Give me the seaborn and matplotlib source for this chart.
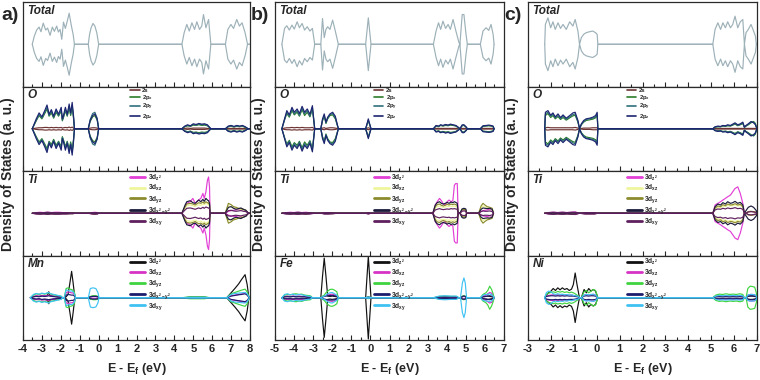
import numpy as np
import pandas as pd
import seaborn as sns
import matplotlib.pyplot as plt
from matplotlib.lines import Line2D
from matplotlib.ticker import MultipleLocator

# ---------------- data: energies (eV) and spin-up DOS (a.u.), spin-down is mirrored ----------------
# panel a) Mn
a_tot_e = [-3.51, -3.40, -3.28, -3.15, -3.05, -2.93, -2.80, -2.70, -2.57, -2.45, -2.34, -2.22, -2.13, -2.04, -1.95,
           -1.86, -1.76, -1.66, -1.56, -1.45, -1.35, -1.28,
           -0.55, -0.48, -0.40, -0.30, -0.20, -0.10, 0.00,
           4.40, 4.52, 4.66, 4.79, 4.93, 5.07, 5.19, 5.33, 5.45, 5.54, 5.67, 5.81, 5.93,
           6.70, 6.83, 6.99, 7.13, 7.30, 7.44, 7.58, 7.74, 7.87, 7.97]
a_tot = [0, 2.5, 4.3, 5.2, 3.8, 6.4, 4.3, 4.9, 2.7, 5.2, 3.9, 5.5, 3.7, 4.5, 1.5,
         6.7, 4.8, 7.0, 9.4, 5.8, 3.0, 0,
         0, 3.0, 5.0, 6.3, 5.5, 3.5, 0,
         0, 3.5, 6.0, 4.0, 6.5, 4.5, 6.8, 4.5, 5.5, 9.0, 5.0, 7.5, 0,
         0, 4.5, 6.0, 4.8, 7.5, 5.5, 6.5, 3.5, 0, 0]

a_o_e = [-3.51, -3.30, -3.15, -3.00, -2.85, -2.73, -2.62, -2.50, -2.38, -2.25, -2.12, -1.98, -1.92, -1.86, -1.76, -1.66, -1.56, -1.48, -1.40, -1.33, -1.28,
         -0.55, -0.45, -0.32, -0.20, -0.08, 0.00,
         4.40, 4.55, 4.70, 4.85, 5.00, 5.15, 5.30, 5.45, 5.60, 5.75, 5.93,
         6.70, 6.85, 7.00, 7.15, 7.30, 7.45, 7.60, 7.75, 7.90, 7.97]
a_o_2s = [0, 0.2, 0.3, 0.3, 0.4, 0.4, 0.3, 0.4, 0.3, 0.4, 0.3, 0.4, 0.2, 0.3, 0.4, 0.3, 0.5, 0.3, 0.5, 0.2, 0,
          0, 0.2, 0.3, 0.3, 0.2, 0,
          0, 0.1, 0.2, 0.1, 0.2, 0.2, 0.2, 0.2, 0.2, 0.1, 0,
          0, 0.1, 0.1, 0.1, 0.1, 0.1, 0.1, 0.1, 0, 0]
a_o_px = [0, 2.4, 4.0, 3.0, 4.6, 6.0, 3.8, 4.8, 3.2, 5.0, 3.8, 5.4, 2.4, 3.4, 5.4, 3.8, 6.2, 4.0, 6.6, 3.2, 0,
          0, 2.2, 3.6, 4.0, 2.6, 0,
          0, 0.6, 0.9, 0.7, 1.1, 1.0, 1.2, 1.0, 1.1, 0.9, 0,
          0, 0.6, 0.8, 0.5, 0.8, 0.6, 0.8, 0.4, 0, 0]
a_o_py = [0, 2.6, 4.3, 3.3, 5.0, 6.5, 4.0, 5.3, 3.5, 5.5, 4.0, 5.8, 2.6, 3.6, 5.8, 4.0, 6.8, 4.4, 7.2, 3.5, 0,
          0, 2.8, 4.6, 5.0, 3.2, 0,
          0, 0.7, 1.0, 0.8, 1.3, 1.1, 1.4, 1.2, 1.3, 1.0, 0,
          0, 0.7, 0.9, 0.6, 0.9, 0.7, 0.9, 0.5, 0, 0]
a_o_pz = [0, 3.0, 4.8, 3.6, 5.5, 7.2, 4.4, 5.8, 3.8, 6.0, 4.4, 6.5, 3.0, 4.0, 6.5, 4.4, 7.5, 4.8, 8.0, 4.0, 0,
          0, 2.5, 4.0, 4.5, 3.0, 0,
          0, 0.8, 1.2, 0.9, 1.5, 1.3, 1.6, 1.4, 1.5, 1.2, 0,
          0, 0.8, 1.0, 0.7, 1.0, 0.8, 1.0, 0.6, 0, 0]

a_ti_e = [-3.51, -3.30, -3.10, -2.90, -2.70, -2.50, -2.30, -2.10, -1.90, -1.70, -1.50, -1.35, -1.28,
          -0.55, -0.35, -0.20, -0.06, 0.00,
          4.40, 4.57, 4.66, 4.84, 4.98, 5.10, 5.28, 5.40, 5.51, 5.58, 5.67, 5.75, 5.81, 5.86, 5.89,
          6.69, 6.86, 7.00, 7.13, 7.26, 7.39, 7.52, 7.65, 7.78, 7.92, 7.97]
a_ti_z2 = [0, 0.2, 0.3, 0.2, 0.3, 0.2, 0.3, 0.3, 0.2, 0.2, 0.1, 0.1, 0,
           0, 0.2, 0.3, 0.2, 0,
           0, 2.0, 3.0, 3.5, 4.5, 3.0, 4.0, 4.5, 6.0, 4.5, 6.5, 10.0, 11.0, 8.0, 0,
           0, 0.6, 0.8, 0.9, 1.0, 1.2, 1.0, 1.1, 0.8, 0, 0]
a_ti_xz = [0, 0.1, 0.1, 0.1, 0.1, 0.1, 0.1, 0.1, 0.1, 0.1, 0.1, 0.1, 0,
           0, 0.1, 0.1, 0.1, 0,
           0, 1.5, 2.2, 2.5, 2.3, 2.0, 2.6, 2.4, 2.8, 2.6, 3.0, 2.8, 2.5, 2.2, 0,
           0, 2.2, 2.0, 1.6, 1.5, 1.3, 1.2, 1.0, 0.8, 0, 0]
a_ti_yz = [0, 0.1, 0.2, 0.1, 0.2, 0.1, 0.2, 0.1, 0.1, 0.1, 0.1, 0.1, 0,
           0, 0.1, 0.2, 0.1, 0,
           0, 2.0, 2.8, 3.0, 2.8, 2.5, 3.2, 3.0, 3.4, 3.0, 3.5, 3.2, 3.0, 2.6, 0,
           0, 3.0, 2.6, 2.0, 1.8, 1.5, 1.4, 1.2, 0.9, 0, 0]
a_ti_x2y2 = [0, 0.1, 0.2, 0.1, 0.2, 0.1, 0.2, 0.2, 0.1, 0.1, 0.1, 0.1, 0,
             0, 0.1, 0.2, 0.1, 0,
             0, 2.5, 3.5, 3.8, 3.2, 3.0, 4.0, 3.5, 4.2, 3.6, 4.5, 4.0, 3.8, 3.0, 0,
             0, 1.8, 2.0, 1.5, 1.2, 1.4, 1.6, 1.2, 0.9, 0, 0]
a_ti_xy = [0, 0.2, 0.2, 0.2, 0.3, 0.2, 0.2, 0.2, 0.2, 0.2, 0.1, 0.1, 0,
           0, 0.2, 0.2, 0.2, 0,
           0, 1.0, 1.5, 1.6, 1.4, 1.2, 1.6, 1.4, 1.8, 1.5, 1.9, 1.7, 1.6, 1.3, 0,
           0, 0.8, 0.9, 0.7, 0.6, 0.7, 0.8, 0.6, 0.5, 0, 0]

a_mn_e = [-3.61, -3.45, -3.30, -3.15, -3.00, -2.85, -2.70, -2.64, -2.58, -2.45, -2.30, -2.15, -2.00, -1.90,
          -1.82, -1.72, -1.62, -1.52, -1.43, -1.35, -1.28, -1.22,
          -0.55, -0.44, -0.30, -0.15, -0.04, 0.02,
          4.40, 4.80, 5.20, 5.60, 5.90,
          6.77, 7.00, 7.20, 7.40, 7.55, 7.74, 7.85, 7.93, 7.97]
a_mn_z2 = [0, 0.3, 0.5, 0.4, 0.6, 0.5, 0.8, 1.8, 0.7, 0.5, 0.4, 0.3, 0.2, 0,
           0, 0.3, 1.0, 4.5, 8.0, 4.5, 1.0, 0,
           0, 0.3, 0.5, 0.5, 0.3, 0,
           0, 0, 0, 0, 0,
           0, 1.5, 2.8, 4.2, 5.5, 7.0, 4.0, 0.5, 0]
a_mn_xz = [0, 0.4, 0.6, 0.5, 0.7, 0.6, 0.7, 0.8, 0.6, 0.5, 0.4, 0.3, 0.3, 0,
           0, 1.5, 1.8, 1.6, 1.5, 1.4, 1.0, 0,
           0, 0.2, 0.3, 0.3, 0.2, 0,
           0, 0.1, 0.1, 0.1, 0,
           0, 0.6, 0.8, 1.0, 1.2, 1.4, 1.0, 0.3, 0]
a_mn_yz = [0, 0.8, 1.2, 1.0, 1.3, 1.1, 1.4, 1.5, 1.2, 1.0, 0.8, 0.6, 0.5, 0,
           0, 2.8, 3.0, 2.6, 2.5, 2.2, 1.6, 0,
           0, 0.4, 0.6, 0.6, 0.4, 0,
           0, 0.3, 0.3, 0.3, 0,
           0, 1.2, 1.6, 2.0, 2.3, 2.6, 1.8, 0.5, 0]
a_mn_x2y2 = [0, 0.3, 0.4, 0.3, 0.5, 0.4, 0.5, 0.6, 0.5, 0.4, 0.3, 0.2, 0.2, 0,
             0, 0.8, 1.0, 0.9, 0.8, 0.8, 0.5, 0,
             0, 0.3, 0.4, 0.4, 0.3, 0,
             0, 0.1, 0.1, 0.1, 0,
             0, 0.5, 0.7, 0.9, 1.0, 1.2, 0.8, 0.2, 0]
a_mn_xy = [0, 1.0, 1.3, 1.1, 1.4, 1.2, 1.5, 1.6, 1.3, 1.1, 0.9, 0.7, 0.5, 0,
           0, 2.4, 2.2, 2.0, 2.1, 1.8, 1.2, 0,
           0, 2.8, 3.0, 2.8, 1.6, 0,
           0, 0.1, 0.1, 0.1, 0,
           0, 1.0, 1.3, 1.4, 1.5, 1.6, 1.2, 0.4, 0]

# panel b) Fe
b_e = [-4.64, -4.50, -4.38, -4.25, -4.11, -3.99, -3.84, -3.72, -3.58, -3.45, -3.31, -3.17, -3.04, -2.92,
       -2.60, -2.51, -2.42, -2.33, -2.24, -2.12, -1.98, -1.84, -1.68,
       -0.25, -0.11, 0.03,
       3.30, 3.44, 3.57, 3.68, 3.80, 3.94, 4.07, 4.19, 4.33, 4.48, 4.64,
       4.69, 4.81, 4.90, 5.01, 5.08,
       5.76, 5.90, 6.06, 6.20, 6.32, 6.43, 6.48]
b_tot = [0, 4.8, 5.6, 4.3, 5.8, 4.6, 6.8, 5.0, 6.3, 4.3, 5.3, 4.0, 4.8, 0,
         0, 7.8, 2.0, 4.5, 5.3, 4.5, 7.3, 4.0, 0,
         0, 8.0, 0,
         0, 4.0, 6.5, 4.5, 7.0, 4.8, 6.0, 4.5, 7.5, 4.0, 0.5,
         0, 9.0, 9.0, 3.0, 0,
         0, 4.0, 5.0, 4.2, 6.0, 3.0, 0]
b_o_2s = [0, 0.2, 0.3, 0.3, 0.4, 0.3, 0.4, 0.3, 0.4, 0.3, 0.3, 0.3, 0.4, 0,
          0, 0.2, 0.3, 0.1, 0.2, 0.3, 0.3, 0.2, 0,
          0, 0.3, 0,
          0, 0.1, 0.1, 0.1, 0.1, 0.1, 0.1, 0.1, 0.1, 0.1, 0,
          0, 0.1, 0.1, 0.1, 0,
          0, 0.1, 0.1, 0.1, 0.1, 0.1, 0]
b_o_px = [0, 2.8, 4.6, 3.5, 5.5, 4.2, 5.0, 3.8, 5.8, 4.0, 5.0, 3.6, 6.0, 0,
          0, 2.4, 3.8, 1.6, 3.0, 4.0, 4.2, 3.0, 0,
          0, 2.4, 0,
          0, 0.8, 0.6, 1.0, 0.8, 1.0, 0.9, 1.1, 1.0, 0.8, 0.2,
          0, 0.9, 1.0, 0.5, 0,
          0, 0.7, 0.8, 0.9, 0.8, 0.6, 0]
b_o_py = [0, 2.6, 5.0, 3.8, 5.9, 4.5, 5.5, 4.0, 6.2, 4.5, 5.5, 3.8, 6.4, 0,
          0, 2.6, 4.0, 1.8, 3.2, 4.2, 4.6, 3.4, 0,
          0, 2.6, 0,
          0, 0.9, 0.7, 1.1, 0.9, 1.2, 1.0, 1.3, 1.1, 0.9, 0.2,
          0, 1.0, 1.1, 0.5, 0,
          0, 0.8, 0.9, 1.0, 0.9, 0.7, 0]
b_o_pz = [0, 3.0, 5.5, 4.2, 6.5, 5.0, 6.0, 4.6, 6.8, 5.0, 6.0, 4.4, 7.0, 0,
          0, 3.0, 4.5, 2.0, 3.5, 4.5, 5.0, 3.8, 0,
          0, 3.0, 0,
          0, 1.0, 0.8, 1.2, 1.0, 1.3, 1.1, 1.4, 1.2, 1.0, 0.3,
          0, 1.2, 1.2, 0.6, 0,
          0, 0.9, 1.0, 1.1, 1.0, 0.8, 0]

b_ti_e = [-4.64, -4.40, -4.20, -4.00, -3.80, -3.60, -3.40, -3.20, -2.92, -2.60, -2.40, -2.20, -1.98, -1.68, -0.25, -0.11, 0.03,
          3.27, 3.40, 3.50, 3.62, 3.72, 3.82, 3.92, 4.02, 4.12, 4.22, 4.32, 4.40, 4.47, 4.55, 4.60,
          4.69, 4.80, 4.90, 5.00, 5.04,
          5.67, 5.80, 5.90, 6.00, 6.12, 6.25, 6.38, 6.45]
b_ti_z2 = [0, 0.2, 0.3, 0.2, 0.3, 0.2, 0.3, 0.2, 0, 0, 0.2, 0.2, 0.1, 0, 0, 0.2, 0,
           0, 2.5, 3.5, 4.5, 3.8, 2.8, 2.5, 3.5, 4.0, 3.5, 3.8, 8.5, 9.0, 9.0, 0,
           0, 0.8, 1.0, 0.8, 0,
           0, 0.6, 0.8, 0.9, 1.0, 1.2, 1.0, 0]
b_ti_xz = [0, 0.1, 0.1, 0.1, 0.1, 0.1, 0.1, 0.1, 0, 0, 0.1, 0.1, 0.1, 0, 0, 0.1, 0,
           0, 1.6, 2.0, 2.2, 1.9, 1.8, 1.9, 2.1, 2.0, 2.2, 2.0, 2.2, 2.0, 1.8, 0,
           0, 0.9, 1.1, 0.9, 0,
           0, 1.6, 2.2, 1.9, 1.6, 1.4, 1.2, 0]
b_ti_yz = [0, 0.1, 0.2, 0.1, 0.2, 0.1, 0.2, 0.1, 0, 0, 0.1, 0.1, 0.1, 0, 0, 0.1, 0,
           0, 2.0, 2.6, 2.8, 2.4, 2.2, 2.4, 2.7, 2.5, 2.8, 2.6, 2.8, 2.6, 2.4, 0,
           0, 1.0, 1.2, 1.0, 0,
           0, 2.2, 3.0, 2.5, 2.0, 1.8, 1.5, 0]
b_ti_x2y2 = [0, 0.1, 0.2, 0.1, 0.2, 0.1, 0.2, 0.1, 0, 0, 0.1, 0.1, 0.1, 0, 0, 0.1, 0,
             0, 2.5, 3.2, 3.5, 3.0, 2.8, 3.0, 3.3, 3.0, 3.4, 3.2, 3.5, 3.3, 3.0, 0,
             0, 1.3, 1.5, 1.3, 0,
             0, 1.2, 1.6, 1.5, 1.4, 1.5, 1.2, 0]
b_ti_xy = [0, 0.2, 0.2, 0.2, 0.3, 0.2, 0.2, 0.2, 0, 0, 0.2, 0.2, 0.1, 0, 0, 0.2, 0,
           0, 1.0, 1.2, 1.4, 1.2, 1.1, 1.2, 1.3, 1.2, 1.4, 1.3, 1.4, 1.3, 1.2, 0,
           0, 0.6, 0.7, 0.6, 0,
           0, 0.5, 0.7, 0.6, 0.6, 0.7, 0.5, 0]

b_fe_e = [-4.64, -4.50, -4.35, -4.20, -4.05, -3.90, -3.75, -3.60, -3.45, -3.30, -3.15, -3.04,
          -2.60, -2.51, -2.42, -2.33, -2.24, -2.12, -2.00, -1.88, -1.76, -1.68,
          -0.25, -0.11, 0.03,
          3.30, 3.60, 3.90, 4.20, 4.50, 4.64,
          4.72, 4.82, 4.90, 4.97, 5.04,
          5.76, 5.90, 6.05, 6.15, 6.25, 6.35, 6.43, 6.48]
b_fe_z2 = [0, 0.3, 0.4, 0.3, 0.4, 0.3, 0.4, 0.3, 0.3, 0.2, 0.2, 0,
           0, 6.5, 12.0, 6.5, 0.5, 0.4, 0.5, 0.4, 0.3, 0,
           0, 12.5, 0,
           0, 0.1, 0.1, 0.1, 0.1, 0,
           0, 0.3, 0.5, 0.3, 0,
           0, 0.3, 0.4, 0.5, 0.4, 0.3, 0.2, 0]
b_fe_xz = [0, 0.4, 0.5, 0.4, 0.5, 0.4, 0.5, 0.4, 0.4, 0.3, 0.3, 0,
           0, 0.3, 0.5, 0.6, 0.8, 1.0, 1.1, 0.9, 0.6, 0,
           0, 0.2, 0,
           0, 0.2, 0.3, 0.2, 0.2, 0,
           0, 0.3, 0.4, 0.3, 0,
           0, 0.5, 0.8, 1.2, 1.6, 1.4, 0.8, 0]
b_fe_yz = [0, 0.8, 1.0, 0.9, 1.1, 1.2, 1.0, 1.1, 0.8, 0.7, 0.6, 0,
           0, 0.5, 0.8, 1.5, 2.0, 2.5, 2.6, 2.3, 1.8, 0,
           0, 0.3, 0,
           0, 0.4, 0.5, 0.4, 0.4, 0,
           0, 0.5, 0.6, 0.5, 0,
           0, 1.0, 1.5, 2.2, 3.5, 2.5, 1.2, 0]
b_fe_x2y2 = [0, 0.3, 0.3, 0.3, 0.4, 0.3, 0.3, 0.3, 0.3, 0.2, 0.2, 0,
             0, 0.2, 0.4, 0.5, 0.6, 0.7, 0.7, 0.6, 0.4, 0,
             0, 0.2, 0,
             0, 0.2, 0.2, 0.2, 0.2, 0,
             0, 0.4, 0.5, 0.4, 0,
             0, 0.3, 0.4, 0.5, 0.6, 0.5, 0.3, 0]
b_fe_xy = [0, 1.0, 1.2, 0.9, 1.1, 0.8, 1.0, 0.9, 0.7, 0.5, 0.4, 0,
           0, 0.3, 0.5, 0.8, 1.2, 1.5, 1.6, 1.2, 0.8, 0,
           0, 0.2, 0,
           0, 0.5, 0.6, 0.5, 0.5, 0,
           0, 4.5, 6.0, 4.5, 0,
           0, 0.8, 1.0, 1.0, 1.2, 0.9, 0.5, 0]

# panel c) Ni
c_e = [-2.27, -2.24, -2.13, -2.01, -1.91, -1.81, -1.69, -1.58, -1.47, -1.33, -1.18, -1.04, -0.94, -0.82, -0.75,
       -0.67, -0.57, -0.46, -0.31, -0.17, -0.05, 0.02, 0.05,
       5.07, 5.17, 5.29, 5.41, 5.51, 5.62, 5.72, 5.84, 5.94, 6.04, 6.16, 6.27, 6.38, 6.45,
       6.52, 6.62, 6.74, 6.85, 6.93, 6.97, 7.00]
c_tot = [0, 6.0, 8.0, 5.0, 6.8, 4.5, 6.5, 4.8, 6.0, 4.5, 6.8, 5.5, 7.5, 4.0, 0,
         2.0, 3.0, 3.5, 3.8, 4.0, 3.5, 3.0, 0,
         0, 4.5, 6.5, 4.5, 6.5, 5.0, 6.8, 5.0, 6.0, 8.5, 5.0, 6.8, 7.5, 0,
         3.5, 4.5, 6.0, 4.0, 2.5, 0, 0]
c_o_2s = [0, 0.3, 0.4, 0.3, 0.3, 0.3, 0.3, 0.3, 0.3, 0.3, 0.3, 0.3, 0.4, 0.2, 0,
          0.1, 0.2, 0.2, 0.2, 0.3, 0.3, 0.3, 0,
          0, 0.1, 0.1, 0.1, 0.1, 0.1, 0.1, 0.1, 0.1, 0.1, 0.1, 0.1, 0.1, 0,
          0.1, 0.1, 0.1, 0.1, 0.1, 0, 0]
c_o_px = [0, 4.0, 4.6, 3.4, 4.0, 3.0, 3.7, 2.8, 3.4, 2.6, 3.3, 3.9, 4.1, 2.0, 0,
          1.2, 2.0, 2.5, 2.7, 2.9, 3.3, 4.1, 0,
          0, 0.5, 0.6, 0.6, 0.8, 0.7, 0.9, 0.8, 1.1, 1.4, 0.9, 1.2, 1.6, 0.4,
          0.8, 1.2, 1.8, 2.2, 1.6, 0.6, 0]
c_o_py = [0, 4.5, 5.0, 3.8, 4.4, 3.3, 4.0, 3.1, 3.8, 2.9, 3.6, 4.3, 4.5, 2.2, 0,
          1.3, 2.2, 2.8, 3.0, 3.2, 3.6, 4.5, 0,
          0, 0.5, 0.7, 0.6, 0.9, 0.8, 1.0, 0.9, 1.2, 1.6, 1.0, 1.3, 1.8, 0.4,
          0.9, 1.3, 2.0, 2.0, 1.4, 0.5, 0]
c_o_pz = [0, 5.0, 5.5, 4.1, 4.8, 3.6, 4.5, 3.4, 4.2, 3.2, 4.0, 4.8, 5.0, 2.5, 0,
          1.5, 2.5, 3.0, 3.2, 3.5, 4.0, 5.0, 0,
          0, 0.6, 0.8, 0.7, 1.0, 0.9, 1.2, 1.0, 1.4, 1.8, 1.2, 1.5, 2.0, 0.5,
          1.0, 1.5, 2.2, 1.8, 1.2, 0.5, 0]

c_ti_e = [-2.27, -2.10, -1.90, -1.70, -1.50, -1.30, -1.10, -0.94, -0.75, -0.50, -0.30, -0.10, 0.05,
          5.07, 5.17, 5.29, 5.41, 5.51, 5.62, 5.72, 5.84, 5.94, 6.04, 6.16, 6.27, 6.38, 6.45,
          6.52, 6.62, 6.74, 6.85, 6.97, 7.00]
c_ti_z2 = [0, 0.2, 0.3, 0.2, 0.3, 0.2, 0.3, 0.4, 0, 0.2, 0.2, 0.2, 0,
           0, 2.5, 3.0, 3.5, 4.0, 4.5, 5.0, 5.5, 6.5, 7.5, 8.0, 6.0, 3.0, 0,
           0, 0.4, 0.5, 0.4, 0.2, 0]
c_ti_xz = [0, 0.1, 0.1, 0.1, 0.1, 0.1, 0.1, 0.1, 0, 0.1, 0.1, 0.1, 0,
           0, 1.3, 1.8, 1.7, 2.2, 2.0, 2.4, 2.2, 2.3, 2.5, 2.2, 2.4, 1.8, 0,
           0, 0.4, 0.5, 0.4, 0.2, 0]
c_ti_yz = [0, 0.1, 0.2, 0.1, 0.2, 0.1, 0.2, 0.2, 0, 0.1, 0.1, 0.1, 0,
           0, 1.6, 2.2, 2.0, 2.6, 2.3, 2.8, 2.5, 2.6, 2.9, 2.5, 2.7, 2.0, 0,
           0, 0.5, 0.6, 0.5, 0.3, 0]
c_ti_x2y2 = [0, 0.1, 0.2, 0.1, 0.2, 0.1, 0.2, 0.2, 0, 0.1, 0.1, 0.1, 0,
             0, 2.0, 2.8, 2.5, 3.2, 2.8, 3.5, 3.0, 3.2, 3.6, 3.0, 3.3, 2.5, 0,
             0.8, 1.8, 2.2, 1.8, 0.8, 0]
c_ti_xy = [0, 0.2, 0.3, 0.2, 0.3, 0.2, 0.3, 0.3, 0, 0.2, 0.2, 0.2, 0,
           0, 1.0, 1.3, 1.2, 1.5, 1.3, 1.6, 1.4, 1.5, 1.7, 1.4, 1.5, 1.2, 0,
           0, 0.4, 0.5, 0.4, 0.2, 0]

c_ni_e = [-2.27, -2.20, -2.10, -2.00, -1.90, -1.80, -1.70, -1.60, -1.50, -1.40, -1.30, -1.20, -1.10, -1.02, -0.94, -0.86, -0.78, -0.75,
          -0.67, -0.55, -0.45, -0.35, -0.25, -0.15, -0.05, 0.05,
          5.07, 5.20, 5.35, 5.50, 5.65, 5.80, 5.95, 6.10, 6.25, 6.38, 6.45,
          6.52, 6.60, 6.70, 6.80, 6.90, 6.97, 7.00]
c_ni_z2 = [0, 0.8, 1.5, 2.0, 2.8, 2.2, 3.0, 2.4, 3.0, 2.5, 2.8, 2.2, 2.6, 4.0, 7.5, 4.0, 1.0, 0,
           0, 2.5, 1.5, 2.8, 2.0, 2.5, 2.0, 0,
           0, 0.3, 0.4, 0.3, 0.4, 0.3, 0.4, 0.3, 0.4, 0.3, 0,
           0, 0.4, 0.5, 0.5, 0.4, 0.3, 0]
c_ni_xz = [0, 0.5, 0.7, 0.8, 0.9, 0.8, 0.9, 0.8, 0.9, 0.8, 0.9, 0.8, 0.8, 0.7, 0.6, 0.5, 0.3, 0,
           0, 0.8, 0.9, 0.8, 0.9, 1.0, 0.8, 0,
           0, 0.4, 0.5, 0.5, 0.5, 0.5, 0.5, 0.5, 0.5, 0.4, 0,
           0, 0.8, 1.0, 1.0, 0.9, 0.5, 0]
c_ni_yz = [0, 1.0, 1.4, 1.6, 1.8, 1.6, 1.9, 1.7, 1.9, 1.6, 1.8, 1.5, 1.7, 1.5, 1.2, 0.8, 0.4, 0,
           0, 1.8, 2.2, 1.5, 2.0, 2.5, 2.2, 0,
           0, 0.8, 1.1, 1.0, 1.2, 1.0, 1.1, 1.0, 1.2, 1.0, 0,
           0, 2.8, 3.5, 3.4, 3.2, 1.5, 0]
c_ni_x2y2 = [0, 0.4, 0.5, 0.6, 0.6, 0.5, 0.6, 0.5, 0.6, 0.5, 0.6, 0.5, 0.5, 0.5, 0.4, 0.3, 0.2, 0,
             0, 0.5, 0.6, 0.5, 0.6, 0.6, 0.5, 0,
             0, 0.3, 0.3, 0.3, 0.3, 0.3, 0.3, 0.3, 0.3, 0.3, 0,
             0, 0.5, 0.6, 0.6, 0.5, 0.3, 0]
c_ni_xy = [0, 1.5, 2.0, 1.8, 1.2, 1.0, 1.2, 1.0, 1.1, 0.9, 1.0, 0.8, 0.9, 0.7, 0.6, 0.5, 0.3, 0,
           0, 0.8, 1.0, 0.9, 1.0, 1.1, 0.8, 0,
           0, 0.5, 0.7, 0.6, 0.7, 0.6, 0.7, 0.6, 0.7, 0.6, 0,
           0, 0.8, 1.0, 1.0, 0.9, 0.5, 0]

o_labels = ['2s', r'2p$_x$', r'2p$_y$', r'2p$_z$']
d_labels = [r'3d$_{z^2}$', r'3d$_{xz}$', r'3d$_{yz}$', r'3d$_{x^2-y^2}$', r'3d$_{xy}$']

tot_color = ['#9db1b8']
o_colors = ['#6e3434', '#2b7d2b', '#2f6f7a', '#1d2571']
ti_colors = ['#e23fd6', '#eef59c', '#8b8b2e', '#1b1b3b', '#5e205e']
tm_colors = ['#111111', '#d633c4', '#3fd43f', '#1d1d6d', '#3fc2f2']

# ---------------- style ----------------
sns.set_style('white')
plt.rcParams['font.family'] = ['Liberation Sans', 'DejaVu Sans']
plt.rcParams['font.weight'] = 'bold'
plt.rcParams['axes.unicode_minus'] = False
plt.rcParams['mathtext.fontset'] = 'custom'
plt.rcParams['mathtext.rm'] = 'Liberation Sans:bold'
plt.rcParams['mathtext.it'] = 'Liberation Sans:bold'
plt.rcParams['mathtext.bf'] = 'Liberation Sans:bold'

W, H = 760, 380
fig = plt.figure(figsize=(7.6, 3.8), dpi=100)

columns = [
    dict(xlim=(-4, 8), left=23, width=227, tag='a)', tag_x=1, ylab_x=8, leg_x=0.47, metal='Mn',
         rows=[(a_tot_e, [a_tot]),
               (a_o_e, [a_o_2s, a_o_px, a_o_py, a_o_pz]),
               (a_ti_e, [a_ti_z2, a_ti_xz, a_ti_yz, a_ti_x2y2, a_ti_xy]),
               (a_mn_e, [a_mn_z2, a_mn_xz, a_mn_yz, a_mn_x2y2, a_mn_xy])]),
    dict(xlim=(-5, 7), left=275, width=229, tag='b)', tag_x=251, ylab_x=259, leg_x=0.43, metal='Fe',
         rows=[(b_e, [b_tot]),
               (b_e, [b_o_2s, b_o_px, b_o_py, b_o_pz]),
               (b_ti_e, [b_ti_z2, b_ti_xz, b_ti_yz, b_ti_x2y2, b_ti_xy]),
               (b_fe_e, [b_fe_z2, b_fe_xz, b_fe_yz, b_fe_x2y2, b_fe_xy])]),
    dict(xlim=(-3, 7), left=528, width=229, tag='c)', tag_x=504, ylab_x=512, leg_x=0.43, metal='Ni',
         rows=[(c_e, [c_tot]),
               (c_e, [c_o_2s, c_o_px, c_o_py, c_o_pz]),
               (c_ti_e, [c_ti_z2, c_ti_xz, c_ti_yz, c_ti_x2y2, c_ti_xy]),
               (c_ni_e, [c_ni_z2, c_ni_xz, c_ni_yz, c_ni_x2y2, c_ni_xy])]),
]

top_px, row_h = 2, 84.5
row_colors = [tot_color, o_colors, ti_colors, tm_colors]
row_labels = [None, o_labels, d_labels, d_labels]

for col in columns:
    titles = ['Total', 'O', 'Ti', col['metal']]
    for i, (energy, series) in enumerate(col['rows']):
        y0 = H - (top_px + (i + 1) * row_h)
        ax = fig.add_axes([col['left'] / W, y0 / H, col['width'] / W, row_h / H])
        for vals, c in zip(series, row_colors[i]):
            df = pd.DataFrame({'E': energy, 'up': vals})
            df['down'] = -df['up']
            for y in ['up', 'down']:
                sns.lineplot(data=df, x='E', y=y, color=c, lw=0.85, sort=False,
                             estimator=None, legend=False, ax=ax)
        ax.set_xlim(*col['xlim'])
        ax.set_ylim(-12.8, 12.8)
        ax.set_xlabel('')
        ax.set_ylabel('')
        ax.set_yticks([])
        ax.xaxis.set_major_locator(MultipleLocator(1))
        ax.xaxis.set_minor_locator(MultipleLocator(0.5))
        ax.tick_params(axis='x', which='major', direction='in', length=3.5, width=0.8,
                       bottom=True, labelsize=8, pad=3)
        ax.tick_params(axis='x', which='minor', direction='in', length=2, width=0.8, bottom=True)
        if i < 3:
            ax.tick_params(axis='x', labelbottom=False)
        for s in ax.spines.values():
            s.set_linewidth(0.9)
            s.set_color('#2a2a2a')
        ax.text(0.02, 0.97, titles[i], transform=ax.transAxes, ha='left', va='top',
                fontsize=8.5, fontweight='bold', fontstyle='italic')
        if row_labels[i] is not None:
            small = i == 1
            handles = [Line2D([], [], color=c, lw=1.2 if small else 2.0) for c in row_colors[i]]
            ax.legend(handles, row_labels[i], loc='upper left', bbox_to_anchor=(col['leg_x'], 0.99),
                      frameon=False, fontsize=4.2 if small else 4.8, handlelength=1.6 if small else 2.2,
                      handletextpad=0.4, labelspacing=0.0 if small else 0.08,
                      borderpad=0.1, borderaxespad=0)
    fig.text(col['tag_x'] / W, 1 - 16 / H, col['tag'], fontsize=14, fontweight='bold',
             ha='left', va='center')
    fig.text(col['ylab_x'] / W, 1 - 174 / H, 'Density of States (a. u.)', rotation=90,
             fontsize=10, fontweight='bold', ha='center', va='center')
    fig.text((col['left'] + col['width'] / 2) / W, 1 - 369 / H, r'E - E$_\mathrm{f}$ (eV)',
             fontsize=9, fontweight='bold', ha='center', va='center')

fig.savefig('out.png', dpi=100)
